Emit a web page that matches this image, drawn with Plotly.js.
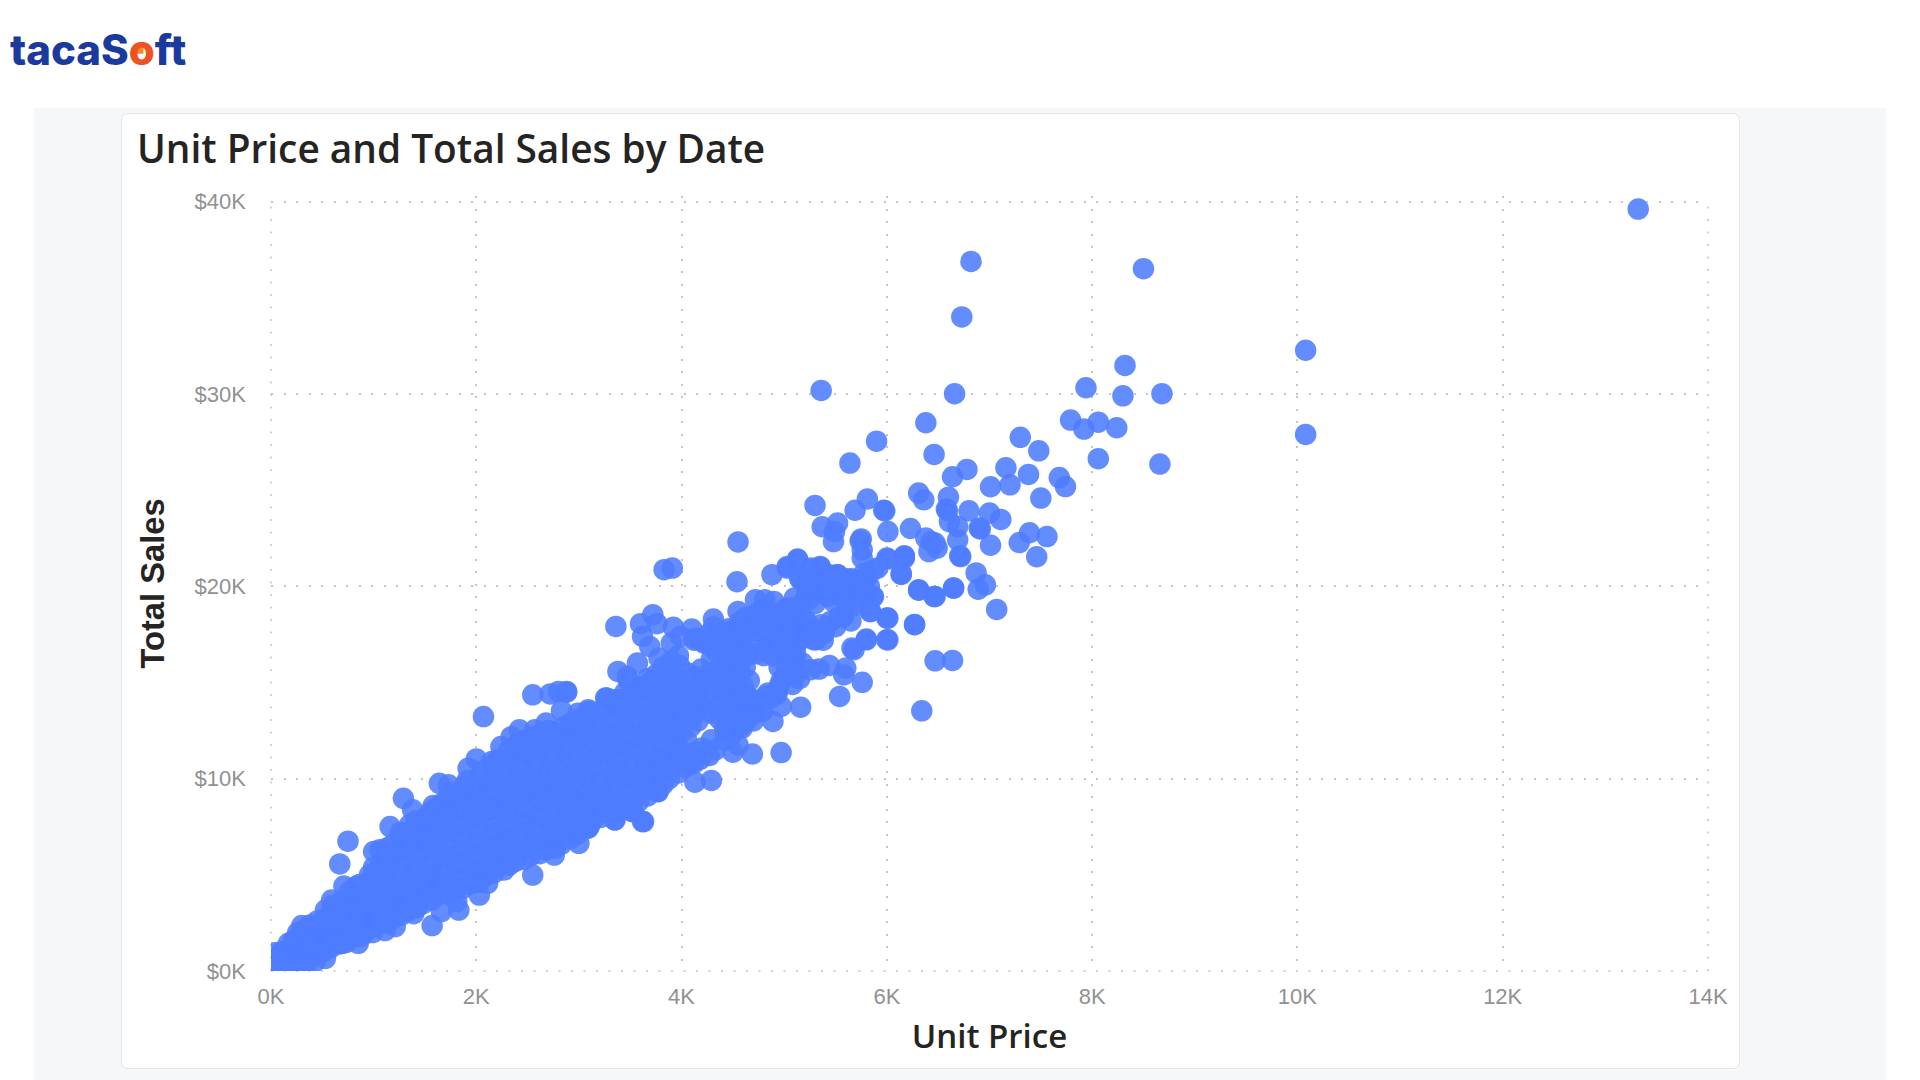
<!DOCTYPE html>
<html>
<head>
<meta charset="utf-8">
<script src="https://cdn.plot.ly/plotly-3.0.1.min.js"></script>
<style>
html,body{margin:0;padding:0;background:#fff;width:1920px;height:1080px;overflow:hidden}
#panel{position:absolute;left:34px;top:108px;width:1852px;height:972px;background:#f6f7f9}
#card{position:absolute;left:121px;top:113px;width:1617px;height:954px;background:#fff;border:1.5px solid #e5e6e8;border-radius:7px}
#chart{position:absolute;left:0;top:0;width:1920px;height:1080px}
</style>
</head>
<body>
<div id="panel"></div>
<div id="card"></div>
<div id="chart"></div>
<script>
// ---- labels ----
const chartTitle = "Unit Price and Total Sales by Date";
const xTitle = "\u00a0\u00a0Unit Price";
const yTitle = "Total Sales";
const xTickVals = [0, 2, 4, 6, 8, 10, 12, 14];
const xTickText = ["0K", "2K", "4K", "6K", "8K", "10K", "12K", "14K"];
const yTickVals = [0, 10, 20, 30, 40];
const yTickText = ["$0K", "$10K", "$20K", "$30K", "$40K"];

// ---- values, in thousands: sparse upper right ----
const priceHigh = [
13.32,10.08,10.08,6.82,8.50,6.73,8.32,7.94,8.30,8.68,
5.36,6.66,6.38,7.79,7.92,8.06,8.24,5.90,7.30,7.48,
8.06,8.66,5.64,6.46,6.78,6.64,7.16,7.38,7.68,7.74,
7.01,7.20,7.50,6.31,6.36,6.60,5.30,5.81,5.69,5.97,
5.98,6.58,6.59,6.80,7.00,7.11,5.37,5.52,5.49,5.48,
6.01,6.23,6.61,6.69,6.90,6.91,5.75,5.74,6.69,6.38,
6.43,6.47,6.41,6.49,7.39,7.29,7.56,7.01,7.46,6.71,
6.72,6.17,6.17,5.76,5.76,6.01,6.14,6.87,6.96,6.89,
6.65,6.31,6.46,7.07,6.27,6.00,5.84,6.01,5.80,5.66
];
const salesHigh = [
39.62,32.28,27.90,36.90,36.52,34.01,31.49,30.33,29.91,30.02,
30.19,30.02,28.51,28.65,28.18,28.54,28.25,27.55,27.75,27.05,
26.64,26.36,26.41,26.86,26.08,25.70,26.17,25.82,25.66,25.19,
25.18,25.28,24.59,24.85,24.50,24.64,24.21,24.54,23.96,23.96,
23.93,24.02,23.95,23.93,23.81,23.48,23.10,23.29,22.85,22.33,
22.85,23.01,23.37,23.11,23.03,22.99,22.47,22.37,22.42,22.51,
22.33,22.25,21.81,21.99,22.79,22.28,22.59,22.14,21.54,21.59,
21.55,21.59,21.47,21.47,21.90,21.42,20.62,20.70,20.08,19.85,
19.92,19.80,19.47,18.80,18.02,18.35,18.69,17.22,17.22,16.79
];

// ---- values: the 5K to 6K cluster ----
const priceCluster = [
5.13,5.35,5.52,5.03,5.26,5.16,5.87,5.81,5.75,5.87,
5.65,5.52,5.53,5.40,5.29,5.24,5.57,5.45,5.03,5.19,
5.06,5.32,5.16,5.29,5.02
];
const salesCluster = [
21.38,21.00,20.60,20.95,20.86,20.34,20.86,20.51,20.08,19.47,
20.08,20.17,19.56,19.73,19.73,19.30,18.43,18.17,18.78,18.26,
17.91,17.74,17.39,17.22,17.04
];

// ---- values: edge of the band, 3K to 6.7K ----
const priceMidEdge = [
4.55,3.83,3.91,4.54,3.36,3.60,3.72,3.76,3.62,3.92,
4.10,4.31,4.55,3.38,3.47,3.57,3.69,3.78,3.88,3.90,
2.88,3.09,3.26,3.48,3.70,4.72,4.81,4.90,5.02,4.97,
4.84,4.74,4.88,5.03,5.13,5.15,5.26,5.35,5.52,5.26,
5.42,5.55,5.68,5.78,5.91,6.00,6.17,6.14,5.86,5.84,
6.01,6.00,6.27,6.31,6.47,6.65,5.80,5.68,5.58,5.36,
5.21,5.31,5.39,5.11,5.00,5.26,5.34,5.44,5.60,5.58,
5.76,5.54,6.47,6.64,6.34,5.16,4.97,4.69,4.50,4.55,
4.59,4.89,4.79,4.97,5.02,4.93,4.84,4.29,4.13,3.77,
3.62,3.52,3.35,3.09,3.69,4.09,4.29,4.42,4.12,4.55,
4.64,4.12,3.99,4.22,4.35,4.51,4.64
];
const salesMidEdge = [
22.31,20.87,20.95,20.24,17.92,18.06,18.53,18.06,17.40,17.87,
17.78,18.30,18.70,15.58,15.32,16.01,16.88,16.27,15.40,17.05,
14.54,13.58,14.19,14.02,15.06,19.31,19.31,19.22,18.87,18.61,
18.79,18.61,20.61,21.04,21.42,20.43,20.95,21.04,20.61,19.83,
19.48,19.91,19.74,20.43,20.95,21.47,21.56,20.66,19.48,18.70,
18.35,17.23,18.01,19.83,19.48,19.91,17.26,16.71,18.44,18.00,
18.27,17.23,17.57,16.53,16.71,15.67,15.70,15.89,15.75,15.40,
15.01,14.28,16.13,16.15,13.53,13.72,11.36,11.28,11.38,11.76,
12.63,12.98,13.50,13.76,15.32,14.54,14.45,9.91,9.82,9.33,
7.77,8.29,7.86,7.43,9.77,10.81,12.02,12.54,13.41,14.10,
14.28,17.20,17.40,17.05,17.40,17.75,17.90
];

// ---- values: edge of the band, 0K to 3.8K ----
const priceLowEdge = [
2.07,2.55,2.72,2.80,2.88,2.83,1.64,1.73,1.29,1.38,
1.61,1.16,1.35,0.75,0.67,1.00,1.06,0.71,0.59,0.53,
0.30,0.38,0.17,0.07,0.00,1.92,2.00,2.15,2.24,2.34,
2.42,2.57,2.68,2.81,3.02,3.10,2.99,3.27,3.36,3.48,
3.48,3.62,2.55,2.76,3.00,3.35,3.63,3.53,3.77,3.10,
2.27,2.03,2.11,1.83,1.81,1.66,1.57,1.39,1.21,1.11,
0.85,0.70,0.53,0.35,0.23,0.07
];
const salesLowEdge = [
13.23,14.36,14.41,14.53,14.50,13.54,9.76,9.68,8.98,8.38,
8.46,7.51,7.60,6.75,5.57,6.21,6.30,4.42,3.69,3.17,
2.36,2.39,1.44,0.74,0.40,10.54,11.03,10.89,11.67,12.19,
12.54,12.54,12.89,12.28,13.06,13.49,13.40,14.19,14.10,14.10,
15.14,14.71,4.99,6.03,6.64,7.86,7.77,8.29,9.33,7.51,
5.25,3.95,4.56,3.17,3.61,3.09,2.36,2.98,2.31,2.10,
1.44,1.44,0.66,0.40,0.31,0.23
];

// ---- values: the solid inside of the band ----
const priceInner = [
0.05,0.12,0.10,0.18,0.06,0.20,0.15,0.08,
0.24,0.28,0.22,0.32,0.30,0.26,0.36,0.34,
0.42,0.46,0.40,0.50,0.44,0.48,0.52,
0.58,0.62,0.56,0.64,0.60,0.66,0.57,
0.74,0.78,0.72,0.80,0.76,0.70,0.82,
0.88,0.92,0.90,0.94,0.86,0.96,0.91,
1.02,1.06,1.04,1.08,1.01,1.07,1.05,1.03,
1.18,1.22,1.20,1.24,1.16,1.23,1.19,1.21,
1.33,1.37,1.35,1.39,1.32,1.38,1.34,1.36,
1.48,1.52,1.50,1.54,1.47,1.53,1.49,1.51,1.46,
1.63,1.67,1.65,1.69,1.62,1.68,1.64,1.66,1.61,
1.78,1.82,1.80,1.84,1.77,1.83,1.79,1.81,1.76,
1.93,1.97,1.95,1.99,1.92,1.98,1.94,1.96,1.91,
2.08,2.12,2.10,2.14,2.07,2.13,2.09,2.11,2.06,
2.23,2.27,2.25,2.29,2.22,2.28,2.24,2.26,2.21,
2.38,2.42,2.40,2.44,2.37,2.43,2.39,2.41,2.36,2.40,
2.53,2.57,2.55,2.59,2.52,2.58,2.54,2.56,2.51,2.55,
2.68,2.72,2.70,2.74,2.67,2.73,2.69,2.71,2.66,2.70,
2.83,2.87,2.85,2.89,2.82,2.88,2.84,2.86,2.81,2.85,
2.98,3.02,3.00,3.04,2.97,3.03,2.99,3.01,2.96,3.00,
3.13,3.17,3.15,3.19,3.12,3.18,3.14,3.16,3.11,
3.28,3.32,3.30,3.34,3.27,3.33,3.29,3.31,3.26,
3.43,3.47,3.45,3.49,3.42,3.48,3.44,3.46,3.41,3.45,
3.58,3.62,3.60,3.64,3.57,3.63,3.59,3.61,3.56,3.60,
3.73,3.77,3.75,3.79,3.72,3.78,3.74,3.76,3.71,3.75,
3.88,3.92,3.90,3.94,3.87,3.93,3.89,3.91,3.86,3.90,
4.03,4.07,4.05,4.09,4.02,4.08,4.04,4.06,
4.18,4.20,4.16,4.22,4.17,4.21,4.19,4.18,
4.33,4.37,4.35,4.39,4.32,4.38,4.34,4.36,4.31,
4.48,4.52,4.50,4.54,4.47,4.53,4.49,4.51,4.46,
4.63,4.65,4.61,4.66,4.62,4.64,4.60,4.65,4.63,
4.78,4.82,4.80,4.84,4.77,4.83,4.79,
4.93,4.97,4.95,4.99,4.92,4.98,4.94,
5.08,5.11,5.10,5.12,5.07,5.13,5.09,
5.15,5.18,5.17,5.14,5.20,5.22,5.24,
5.35,5.38,5.33,5.37,
5.50,5.53,5.48,5.52,5.49,
5.65,5.68,5.63,5.66,
5.80,5.83,5.78
];
const salesInner = [
0.3,0.5,1.0,0.2,0.7,1.2,0.9,0.15,
0.4,1.0,1.6,0.5,1.3,2.0,0.9,1.9,
0.8,1.3,1.8,1.1,2.3,2.0,2.6,
1.2,1.8,2.4,2.9,3.4,1.4,2.9,
1.5,2.2,2.9,3.5,4.1,3.3,1.8,
1.8,2.5,3.2,3.9,4.5,5.0,2.0,
2.3,2.9,3.6,4.3,4.9,5.6,2.6,5.2,
2.7,3.3,4.0,4.7,5.4,6.1,6.6,3.0,
3.1,3.8,4.5,5.2,5.9,6.6,7.2,3.3,
3.5,4.2,4.9,5.6,6.3,7.0,7.6,8.0,3.8,
4.0,4.6,5.3,6.0,6.7,7.4,8.1,8.7,4.4,
4.1,4.8,5.5,6.2,6.9,7.6,8.3,9.0,9.3,
4.5,5.2,5.9,6.6,7.3,8.0,8.7,9.4,9.9,
4.9,5.6,6.3,7.0,7.7,8.4,9.1,9.8,10.4,
5.5,6.2,6.9,7.6,8.3,9.0,9.7,10.4,11.0,
5.7,6.4,7.1,7.8,8.5,9.2,9.9,10.6,11.3,11.8,
6.0,6.7,7.4,8.1,8.8,9.5,10.2,10.9,11.6,12.2,
6.3,7.0,7.7,8.4,9.1,9.8,10.5,11.2,11.9,12.5,
6.6,7.3,8.0,8.7,9.4,10.1,10.8,11.5,12.2,12.7,
7.1,7.8,8.5,9.2,9.9,10.6,11.3,12.0,12.7,13.1,
7.8,8.4,9.1,9.8,10.5,11.2,11.9,12.6,13.3,
8.2,8.9,9.6,10.3,11.0,11.7,12.4,13.1,13.8,
8.5,9.2,9.9,10.6,11.3,12.0,12.7,13.4,14.1,14.5,
8.8,9.5,10.2,10.9,11.6,12.3,13.0,13.7,14.4,14.8,
9.4,10.1,10.8,11.5,12.2,12.9,13.6,14.3,15.0,15.4,
10.0,10.7,11.4,12.1,12.8,13.5,14.2,14.9,15.6,16.1,
10.6,11.3,12.0,12.7,13.4,14.1,14.8,15.5,
11.0,11.6,13.0,13.7,14.4,15.1,15.7,17.2,
11.5,13.1,13.8,14.5,15.2,15.9,16.6,17.3,17.9,
12.2,12.9,13.6,14.3,15.0,15.7,16.4,17.1,17.8,
13.0,13.7,14.4,15.1,15.8,16.5,17.2,17.9,18.4,
13.9,14.3,16.4,17.0,17.6,18.2,18.8,
14.4,15.1,15.8,16.5,17.2,17.8,18.4,
14.9,15.6,16.3,17.0,17.7,18.3,18.9,
15.2,16.0,17.3,18.0,19.3,19.9,20.4,
17.6,17.2,19.7,20.3,
17.9,18.4,19.2,19.9,20.5,
18.2,19.0,19.7,20.4,
19.4,20.0,20.7
];

// ---- values: more points between the columns above ----
const priceFill = [
0.03,0.09,0.14,0.04,0.17,0.11,0.03,0.22,
0.29,0.33,0.27,0.35,0.31,
0.43,0.47,0.41,0.49,0.45,
0.55,0.51,0.58,0.53,0.60,
0.67,0.69,0.66,0.71,0.68,0.70,
0.83,0.85,0.81,0.86,0.83,0.84,
0.98,1.00,0.97,1.01,0.98,1.00,0.99,
1.12,1.14,1.11,1.15,1.12,1.14,1.13,1.11,
1.27,1.29,1.26,1.30,1.27,1.29,1.28,1.26,
1.42,1.44,1.41,1.45,1.42,1.44,1.43,1.41,
1.57,1.59,1.56,1.60,1.57,1.59,1.58,1.56,1.58,
1.72,1.74,1.71,1.75,1.72,1.74,1.73,1.71,1.73,
1.87,1.89,1.86,1.90,1.87,1.89,1.88,1.86,1.88,
2.02,2.04,2.01,2.05,2.02,2.04,2.03,2.01,2.03,
2.17,2.19,2.16,2.20,2.17,2.19,2.18,2.16,2.18,
2.32,2.34,2.31,2.35,2.32,2.34,2.33,2.31,2.33,2.32,
2.47,2.49,2.46,2.50,2.47,2.49,2.48,2.46,2.48,2.47,
2.62,2.64,2.61,2.65,2.62,2.64,2.63,2.61,2.63,2.62,
2.77,2.79,2.76,2.80,2.77,2.79,2.78,2.76,2.78,2.77,
2.92,2.94,2.91,2.95,2.92,2.94,2.93,2.91,2.93,2.92,
3.07,3.09,3.06,3.10,3.07,3.09,3.08,3.06,3.08,
3.22,3.24,3.21,3.25,3.22,3.24,3.23,3.21,3.23,
3.37,3.39,3.36,3.40,3.37,3.39,3.38,3.36,3.38,3.37,
3.52,3.54,3.51,3.55,3.52,3.54,3.53,3.51,3.53,
3.67,3.69,3.66,3.70,3.67,3.69,3.68,3.66,3.68,3.67,
3.82,3.84,3.81,3.85,3.82,3.84,3.83,3.81,3.83,3.82,
3.97,3.99,3.96,4.00,3.97,3.99,3.98,3.96,3.98,3.97,
4.12,4.14,4.11,4.15,4.12,4.14,4.13,
4.27,4.29,4.26,4.30,4.27,4.29,4.28,4.26,
4.42,4.44,4.41,4.45,4.42,4.44,4.43,4.41,4.43,
4.57,4.59,4.56,4.60,4.57,4.59,4.58,4.56,4.58,
4.71,4.70,4.72,4.71,4.70,4.72,
4.87,4.89,4.86,4.88,4.87,
5.02,5.04,5.01,5.03,5.02,
5.22,5.24,5.42,5.44,5.60,5.62,5.61,5.72,5.74,
5.00,5.10,4.95,4.70,4.55,5.30,5.10
];
const salesFill = [
0.1,0.2,0.4,0.5,0.8,0.1,0.95,0.2,
0.6,1.2,1.5,1.6,2.1,
0.5,1.0,1.5,1.6,2.6,
1.5,1.0,2.1,2.7,2.6,
1.5,2.1,2.7,3.0,3.6,1.6,
1.9,2.6,3.2,3.9,4.4,2.2,
2.3,2.8,3.5,4.2,4.8,5.4,2.0,
2.5,3.1,3.8,4.5,5.2,5.9,6.4,2.9,
2.9,3.5,4.2,4.9,5.6,6.3,6.9,7.2,
3.3,3.9,4.6,5.3,6.0,6.7,7.3,7.8,
3.7,4.3,5.0,5.7,6.4,7.1,7.8,8.3,8.6,
4.0,4.5,5.2,5.9,6.6,7.3,8.0,8.7,9.1,
4.3,4.9,5.6,6.3,7.0,7.7,8.4,9.1,9.6,
4.6,5.3,6.0,6.7,7.4,8.1,8.8,9.5,10.1,
5.1,5.8,6.5,7.2,7.9,8.6,9.3,10.0,10.7,
5.5,6.1,6.8,7.5,8.2,8.9,9.6,10.3,11.0,11.5,
5.8,6.4,7.1,7.8,8.5,9.2,9.9,10.6,11.3,12.0,
6.1,6.7,7.4,8.1,8.8,9.5,10.2,10.9,11.6,12.3,
6.4,7.0,7.7,8.4,9.1,9.8,10.5,11.2,11.9,12.4,
6.9,7.5,8.2,8.9,9.6,10.3,11.0,11.7,12.4,12.9,
7.4,8.1,8.8,9.5,10.2,10.9,11.6,12.3,13.0,
8.0,8.6,9.3,10.0,10.7,11.4,12.1,12.8,13.5,
8.3,8.9,9.6,10.3,11.0,11.7,12.4,13.1,13.8,14.1,
8.7,9.4,10.1,10.8,11.5,12.2,12.9,13.6,14.3,
9.1,9.8,10.5,11.2,11.9,12.6,13.3,14.0,14.7,15.2,
9.7,10.4,11.1,11.8,12.5,13.2,13.9,14.6,15.3,15.8,
10.3,11.0,11.7,12.4,13.1,13.8,14.5,15.2,15.9,16.4,
10.8,11.4,13.2,13.9,14.6,15.3,17.3,
11.2,13.4,14.1,14.8,15.5,16.2,16.9,17.5,
12.0,12.7,13.4,14.1,14.8,15.5,16.2,16.9,17.6,
12.7,13.4,14.1,14.8,15.5,16.2,16.9,17.6,18.2,
13.4,14.1,16.5,17.2,17.9,18.5,
14.2,16.4,17.0,17.7,18.3,
15.8,16.5,17.2,17.9,18.5,
19.6,20.2,20.0,20.6,19.2,19.8,20.4,19.2,20.0,
15.2,15.3,14.8,13.0,13.0,19.1,19.4
];

const unitPrice = [].concat(priceInner, priceLowEdge, priceMidEdge, priceCluster, priceHigh, priceFill);
const totalSales = [].concat(salesInner, salesLowEdge, salesMidEdge, salesCluster, salesHigh, salesFill);

// ---- layout helpers: page pixels to paper fractions ----
const W = 1920, H = 1080;
const M = {l: 270.6, r: 212.3, t: 196.2, b: 109};
const px = x => (x - M.l) / (W - M.l - M.r);
const py = y => (H - M.b - y) / (H - M.t - M.b);
const P = (x, y) => px(x) + "," + py(y);
const yTop = 40.3;

const tickFont = {family: "'Liberation Sans',sans-serif", size: 22, color: "#919191"};
const dash = "2px,10.5px", gridCol = "#c4c4c4", gridW = 1.5;
const gridStyle = {griddash: dash, gridcolor: gridCol, gridwidth: gridW};
const edge = (o) => Object.assign({type: "line", layer: "below", line: {color: gridCol, width: gridW, dash: dash}}, o);

Plotly.newPlot("chart", [{
  type: "scatter", mode: "markers", x: unitPrice, y: totalSales, hoverinfo: "x+y",
  marker: {size: 21.5, color: "#4d7cff", opacity: 0.88, line: {width: 0}}
}], {
  width: W, height: H, margin: M, showlegend: false,
  paper_bgcolor: "rgba(0,0,0,0)", plot_bgcolor: "rgba(0,0,0,0)",
  title: {text: chartTitle, xref: "container", yref: "container", x: 137 / W, xanchor: "left", y: 1 - 149 / H, yanchor: "middle",
    font: {family: "'Open Sans',sans-serif", size: 38.8, weight: 600, color: "#252423"}},
  xaxis: Object.assign({
    range: [0, 14], tickvals: xTickVals, ticktext: xTickText, tickfont: tickFont, ticks: "",
    showline: false, zeroline: false, showgrid: true, ticklabelstandoff: 10,
    title: {text: xTitle, standoff: 16.5, font: {family: "'Open Sans',sans-serif", size: 33, weight: 600, color: "#252423"}}
  }, gridStyle),
  yaxis: Object.assign({
    range: [0, yTop], tickvals: yTickVals, ticktext: yTickText, tickfont: tickFont, ticks: "",
    showline: false, zeroline: false, showgrid: true, ticklabelstandoff: 24,
    title: {text: yTitle, standoff: 20, font: {family: "'Liberation Sans',sans-serif", size: 32.7, weight: 700, color: "#252423"}}
  }, gridStyle),
  annotations: [{
    xref: "paper", yref: "paper", x: px(8), y: py(50), xanchor: "left", yanchor: "middle", showarrow: false,
    text: "tacaS<span style=\"color:#ee5122\">o</span>ft",
    font: {family: "'Inter',sans-serif", size: 42, weight: 800, color: "#1b3a9e"}
  }],
  shapes: [
    edge({xref: "paper", x0: 0, x1: 0, yref: "y", y0: 0, y1: 40}),
    edge({xref: "paper", x0: 1, x1: 1, yref: "y", y0: 0, y1: 40}),
    edge({xref: "x", x0: 0, x1: 14, yref: "paper", y0: 0, y1: 0}),
    {type: "path", xref: "paper", yref: "paper", layer: "above", line: {width: 0}, fillcolor: "#f08a2c",
     path: "M" + P(143, 54) + " L" + P(143, 42) + " Q" + P(133, 42) + " " + P(132, 54) + " Z"}
  ]
}, {displayModeBar: false});
</script>
</body>
</html>
